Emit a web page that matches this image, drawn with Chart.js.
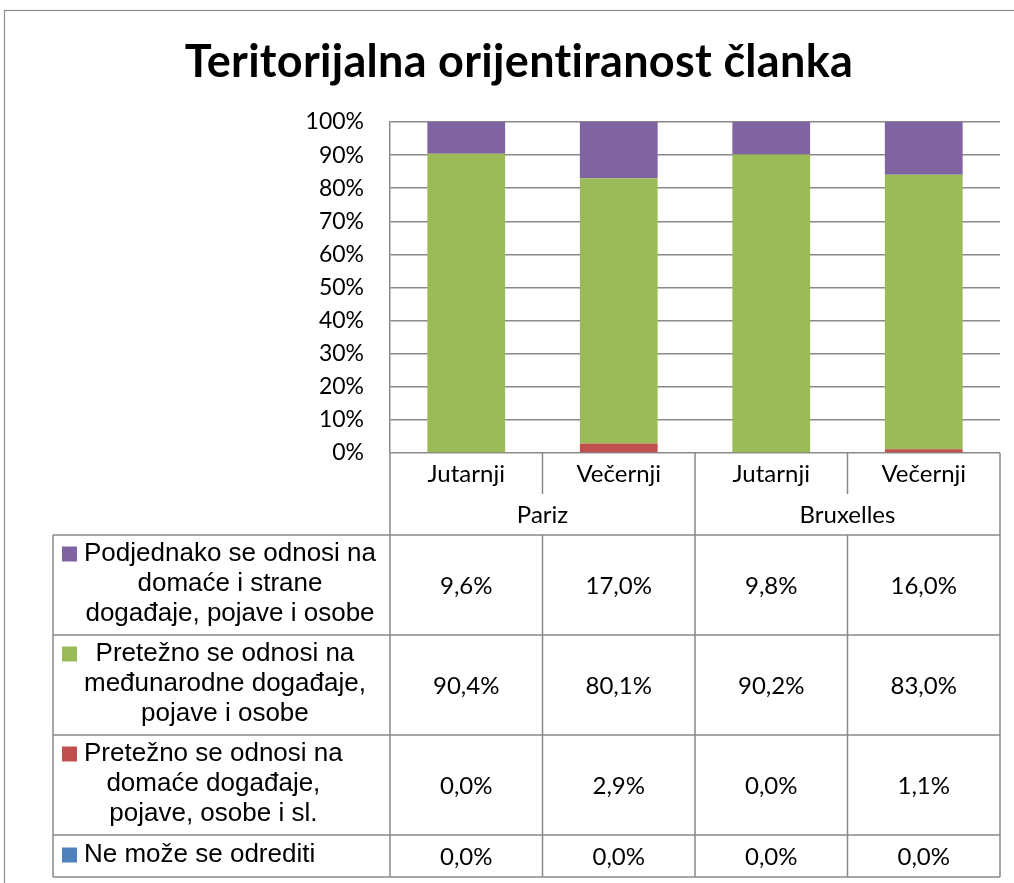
<!DOCTYPE html>
<html>
<head>
<meta charset="utf-8">
<script src="https://cdn.jsdelivr.net/npm/chart.js@4.4.1/dist/chart.umd.min.js"></script>
<style>
  html, body { margin: 0; padding: 0; background: #fff; }
  #wrap { width: 1014px; height: 883px; }
</style>
</head>
<body>
<div id="wrap"><canvas id="chart" width="1014" height="883"></canvas></div>
<script>
// --- data ---
const chartTitle = "Teritorijalna orijentiranost članka";
const shifts = ["Jutarnji", "Večernji", "Jutarnji", "Večernji"];
const cities = ["Pariz", "Bruxelles"];
const yTicks = [0, 10, 20, 30, 40, 50, 60, 70, 80, 90, 100];

const neMozeSeOdrediti = [0.0, 0.0, 0.0, 0.0];
const domaceDogadaje = [0.0, 2.9, 0.0, 1.1];
const medjunarodneDogadaje = [90.4, 80.1, 90.2, 83.0];
const podjednako = [9.6, 17.0, 9.8, 16.0];

const seriesLabels = [
  ["Ne može se odrediti"],
  ["Pretežno se odnosi na", "domaće događaje,", "pojave, osobe i sl."],
  ["Pretežno se odnosi na", "međunarodne događaje,", "pojave i osobe"],
  ["Podjednako se odnosi na", "domaće i strane", "događaje, pojave i osobe"]
];
const seriesColors = ["#4F81BD", "#C0504D", "#9BBB59", "#8064A2"];

const CAL = "Lato, 'Open Sans', sans-serif";
const ARIAL = "'Liberation Sans', Arial, sans-serif";
const LINE = "#898989";

function fmt(v) {
  return v.toFixed(1).replace(".", ",") + "%";
}

// title, category labels and the data table under the plot
const tablePlugin = {
  id: "dataTable",
  afterDraw(chart) {
    const ctx = chart.ctx;
    const area = chart.chartArea;
    const xs = chart.scales.x;
    const n = shifts.length;
    const step = xs.getPixelForValue(1) - xs.getPixelForValue(0);
    const edges = [];
    for (let i = 0; i <= n; i++) edges.push(xs.getPixelForValue(i) - step / 2);

    const top = area.bottom;       // 453
    const shiftRowB = top + 41;    // end of short dividers
    const groupRowB = top + 82;    // 535
    const rowH = [100, 100, 100, 42];
    const tableLeft = 53;
    const rowB = [];
    let acc = groupRowB;
    rowH.forEach(h => { acc += h; rowB.push(acc); });

    ctx.save();

    // outer frame
    ctx.strokeStyle = "#8c8c8c";
    ctx.lineWidth = 1.2;
    ctx.strokeRect(4.5, 10.5, 1020, 900);

    // title
    ctx.fillStyle = "#000";
    ctx.font = "bold 45px " + CAL;
    ctx.letterSpacing = "0.3px";
    ctx.textAlign = "center";
    ctx.textBaseline = "alphabetic";
    ctx.fillText(chartTitle, 519, 77);
    ctx.letterSpacing = "0px";

    // grid lines of the table
    ctx.strokeStyle = LINE;
    ctx.lineWidth = 1.5;
    const line = (x1, y1, x2, y2) => {
      ctx.beginPath(); ctx.moveTo(x1, y1); ctx.lineTo(x2, y2); ctx.stroke();
    };
    const bottom = rowB[rowB.length - 1];
    line(edges[0], top, edges[0], bottom);
    line(edges[n], top, edges[n], bottom);
    line(edges[2], top, edges[2], bottom);
    [1, 3].forEach(i => {
      line(edges[i], top, edges[i], shiftRowB);
      line(edges[i], groupRowB, edges[i], bottom);
    });
    line(tableLeft, groupRowB, edges[n], groupRowB);
    rowB.forEach(y => line(tableLeft, y, edges[n], y));
    line(tableLeft, groupRowB, tableLeft, bottom);

    // category labels
    ctx.fillStyle = "#000";
    ctx.font = "24px " + CAL;
    ctx.textAlign = "center";
    ctx.textBaseline = "middle";
    shifts.forEach((s, i) => ctx.fillText(s, xs.getPixelForValue(i), top + 21));
    cities.forEach((c, g) => ctx.fillText(c, (edges[g * 2] + edges[g * 2 + 2]) / 2, top + 62));

    // table rows: top row = last dataset
    const datasets = chart.data.datasets;
    let y0 = groupRowB;
    for (let r = 0; r < rowH.length; r++) {
      const ds = datasets[datasets.length - 1 - r];
      const yMid = y0 + rowH[r] / 2;
      // values
      ctx.font = "24px " + CAL;
      ctx.textAlign = "center";
      ds.data.forEach((v, i) => ctx.fillText(fmt(v), xs.getPixelForValue(i), yMid + 1));
      // legend label
      const lines = ds.label;
      ctx.font = "26px " + ARIAL;
      const widths = lines.map(l => ctx.measureText(l).width);
      const maxW = Math.max(...widths);
      const lh = 30;
      const firstY = yMid - (lines.length - 1) * lh / 2 - 1;
      const textLeft = 84;
      lines.forEach((l, k) => ctx.fillText(l, textLeft + maxW / 2, firstY + k * lh));
      ctx.fillStyle = ds.backgroundColor;
      ctx.fillRect(62, firstY - 7.5, 15, 15);
      ctx.fillStyle = "#000";
      y0 += rowH[r];
    }
    ctx.restore();
  }
};

const datasets = [neMozeSeOdrediti, domaceDogadaje, medjunarodneDogadaje, podjednako].map((d, i) => ({
  label: seriesLabels[i],
  data: d,
  backgroundColor: seriesColors[i],
  borderWidth: 0
}));

new Chart(document.getElementById("chart"), {
  type: "bar",
  data: { labels: shifts, datasets },
  options: {
    responsive: false,
    animation: false,
    layout: { padding: { left: 290, right: 14, top: 122, bottom: 430 } },
    plugins: { legend: { display: false }, tooltip: { enabled: false }, title: { display: false } },
    datasets: { bar: { barPercentage: 0.51, categoryPercentage: 1 } },
    scales: {
      x: { stacked: true, display: false },
      y: {
        stacked: true,
        min: yTicks[0],
        max: yTicks[yTicks.length - 1],
        afterBuildTicks(s) { s.ticks = yTicks.map(v => ({ value: v })); },
        afterFit(s) { s.width = 100; },
        ticks: {
          callback: v => v + "%",
          color: "#000",
          padding: 26,
          font: { family: CAL, size: 23 }
        },
        grid: { color: LINE, lineWidth: 1.5, drawTicks: false },
        border: { color: LINE, width: 1.5 }
      }
    }
  },
  plugins: [tablePlugin]
});
</script>
</body>
</html>
